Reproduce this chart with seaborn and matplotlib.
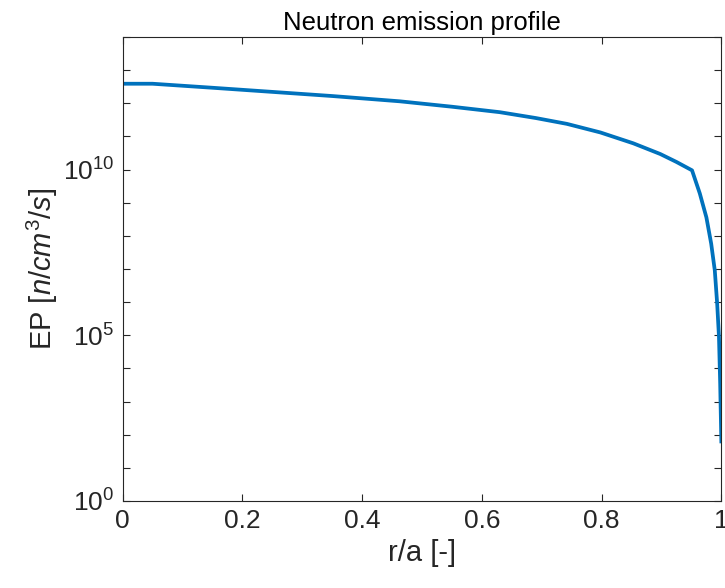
import matplotlib
matplotlib.use("Agg")
import matplotlib.pyplot as plt
import matplotlib.ticker as mticker
import seaborn as sns
import pandas as pd

r_over_a = [0.0, 0.05, 0.15, 0.246, 0.35, 0.463, 0.55, 0.63, 0.69, 0.742, 0.798,
            0.853, 0.898, 0.925, 0.951, 0.964, 0.975, 0.983, 0.989, 0.993, 0.996,
            0.998, 1.0]
emission = [3.9e12, 3.9e12, 2.95e12, 2.24e12, 1.66e12, 1.15e12, 7.9e11, 5.4e11,
            3.6e11, 2.4e11, 1.32e11, 6.2e10, 2.95e10, 1.7e10, 9.5e9, 1.9e9,
            3.6e8, 5.8e7, 9.1e6, 8.9e5, 8.9e4, 3.5e3, 55.0]
x_ticks = [0, 0.2, 0.4, 0.6, 0.8, 1]
x_tick_labels = ["0", "0.2", "0.4", "0.6", "0.8", "1"]
y_major = [1e0, 1e5, 1e10]
y_major_labels = [r"$10^{0}$", r"$10^{5}$", r"$10^{10}$"]
y_minor = [1e1, 1e2, 1e3, 1e4, 1e6, 1e7, 1e8, 1e9, 1e11, 1e12, 1e13, 1e14]

sns.set_theme(style="ticks")
plt.rcParams["font.family"] = ["Liberation Sans", "DejaVu Sans"]
plt.rcParams["mathtext.fontset"] = "custom"
plt.rcParams["mathtext.rm"] = "Liberation Sans"
plt.rcParams["mathtext.it"] = "Liberation Sans:italic"
plt.rcParams["mathtext.bf"] = "Liberation Sans:bold"

df = pd.DataFrame({"r/a": r_over_a, "EP": emission})

fig = plt.figure(figsize=(7.25, 5.88), dpi=100)
ax = fig.add_axes([0.169, 0.148, 0.826, 0.789])
sns.lineplot(data=df, x="r/a", y="EP", ax=ax, color="#0072BD", linewidth=2.7,
             sort=False, solid_joinstyle="round", solid_capstyle="butt")
ax.set_yscale("log")
ax.set_xlim(0, 1)
ax.set_ylim(1e0, 1e14)

ax.set_xticks(x_ticks)
ax.set_xticklabels(x_tick_labels)
ax.yaxis.set_major_locator(mticker.FixedLocator(y_major))
ax.yaxis.set_major_formatter(mticker.FixedFormatter(y_major_labels))
ax.yaxis.set_minor_locator(mticker.FixedLocator(y_minor))
ax.yaxis.set_minor_formatter(mticker.NullFormatter())

grey = "#262626"
for s in ax.spines.values():
    s.set_visible(True)
    s.set_color(grey)
    s.set_linewidth(0.8)
ax.tick_params(axis="both", which="both", direction="in", top=True, right=True,
               colors=grey, labelcolor=grey, width=0.8)
ax.tick_params(axis="both", which="major", length=5, labelsize=19, pad=6)
ax.tick_params(axis="y", which="minor", length=5)

ax.set_xlabel("r/a [-]", fontsize=21, color=grey, labelpad=4)
ax.set_ylabel(r"EP [$\it{n/cm^3/s}$]", fontsize=21, color=grey, labelpad=2)
ax.set_title("Neutron emission profile", fontsize=18.5, color="black", pad=5)

fig.savefig("out.png", dpi=100)
